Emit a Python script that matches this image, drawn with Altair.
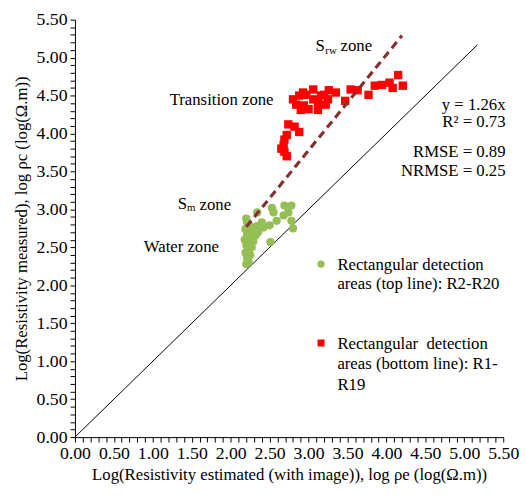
import altair as alt
import pandas as pd

# ---- data ----
green_x = [2.21, 2.34, 2.53, 2.55, 2.69, 2.78, 2.74, 2.68, 2.59, 2.50, 2.40, 2.42, 2.78, 2.80, 2.51,
           2.20, 2.23, 2.19, 2.25, 2.21, 2.28, 2.18, 2.24, 2.20, 2.27, 2.22, 2.19, 2.25, 2.21, 2.23,
           2.20, 2.30, 2.32, 2.29, 2.26, 2.34, 2.35]
green_y = [2.83, 2.96, 3.02, 2.96, 3.05, 3.05, 2.96, 2.92, 2.85, 2.79, 2.83, 2.76, 2.85, 2.75, 2.57,
           2.88, 2.80, 2.74, 2.70, 2.66, 2.64, 2.60, 2.57, 2.53, 2.50, 2.47, 2.43, 2.40, 2.36, 2.31,
           2.28, 2.72, 2.66, 2.58, 2.77, 2.78, 2.70]

red_x = [2.72, 2.69, 2.68, 2.69, 2.72, 2.74, 2.82, 2.88, 2.80, 2.88, 2.97, 2.84, 2.94, 3.06, 3.12,
         3.16, 2.90, 3.12, 2.93, 3.06, 3.26, 3.25, 3.35, 3.47, 3.54, 3.63, 3.77, 3.85, 3.94, 4.04,
         4.15, 4.21, 4.08, 3.00, 3.20, 3.22, 2.65]
red_y = [3.70, 3.76, 3.85, 3.92, 3.98, 4.12, 4.09, 4.02, 4.45, 4.50, 4.51, 4.38, 4.37, 4.45, 4.41,
         4.50, 4.31, 4.31, 4.54, 4.58, 4.57, 4.45, 4.54, 4.43, 4.58, 4.57, 4.51, 4.63, 4.64, 4.67,
         4.77, 4.63, 4.60, 4.32, 4.51, 4.38, 3.80]

one_x = [0.0, 5.17]
one_y = [0.0, 5.17]
fit_x = [2.2, 4.2]
fit_y = [2.77, 5.29]

tick_values = [round(i * 0.1, 1) for i in range(56)]

y_title = "Log(Resistivity measured), log \u03c1c (log(\u03a9.m))"
x_title = "Log(Resistivity estimated (with image)), log \u03c1e (log(\u03a9.m))"

FONT = "Liberation Serif"
GREEN = "#95BE55"
RED = "#FF0000"
DASH = "#843030"

xs = alt.Scale(domain=[0, 5.5], nice=False, zero=False)
ys = alt.Scale(domain=[0, 5.5], nice=False, zero=False)
label_expr = "round(datum.value * 10) % 5 == 0 ? format(datum.value, '.2f') : ''"
X = alt.X("x:Q", scale=xs, axis=alt.Axis(values=tick_values, labelExpr=label_expr, title=x_title,
                                          labelOverlap=False, labelFlush=False, titlePadding=4))
Y = alt.Y("y:Q", scale=ys, axis=alt.Axis(values=tick_values, labelExpr=label_expr, title=y_title,
                                          labelOverlap=False, labelFlush=False, titlePadding=6))

one_df = pd.DataFrame({"x": one_x, "y": one_y})
fit_df = pd.DataFrame({"x": fit_x, "y": fit_y})
g_df = pd.DataFrame({"x": green_x, "y": green_y})
r_df = pd.DataFrame({"x": red_x, "y": red_y})

one_line = alt.Chart(one_df).mark_line(color="black", strokeWidth=1).encode(x=X, y=Y)
fit_line = alt.Chart(fit_df).mark_line(color=DASH, strokeWidth=3.2, strokeDash=[8, 5]).encode(x=X, y=Y)
g_pts = alt.Chart(g_df).mark_point(shape="circle", filled=True, opacity=1, color=GREEN, size=70).encode(x=X, y=Y)
r_pts = alt.Chart(r_df).mark_point(shape="square", filled=True, opacity=1, color=RED, size=72).encode(x=X, y=Y)

# annotations
ann_left = pd.DataFrame({
    "x": [3.09, 3.41, 1.32, 1.60,
          3.37, 3.37, 3.37, 3.37, 3.37],
    "y": [5.15, 5.15, 3.07, 3.06,
          2.27, 2.01, 1.23, 0.96, 0.69],
    "text": ["S", "zone", "S", "zone",
             "Rectangular detection", "areas (top line): R2-R20",
             "Rectangular\u00a0 detection", "areas (bottom line): R1-", "R19"],
})
ann_sub = pd.DataFrame({"x": [3.215, 1.44], "y": [5.08, 3.02], "text": ["rw", "m"]})
ann_right = pd.DataFrame({
    "x": [2.55, 1.85, 5.53, 5.53, 5.53, 5.53],
    "y": [4.44, 2.50, 4.37, 4.15, 3.75, 3.50],
    "text": ["Transition zone", "Water zone", "y = 1.26x", "R\u00b2 = 0.73", "RMSE = 0.89", "NRMSE = 0.25"],
})
leg_g = pd.DataFrame({"x": [3.16], "y": [2.28]})
leg_r = pd.DataFrame({"x": [3.16], "y": [1.24]})

t_left = alt.Chart(ann_left).mark_text(align="left", baseline="middle", font=FONT, fontSize=17,
                                       color="black").encode(x=X, y=Y, text="text:N")
t_sub = alt.Chart(ann_sub).mark_text(align="left", baseline="middle", font=FONT, fontSize=11,
                                     color="black").encode(x=X, y=Y, text="text:N")
t_right = alt.Chart(ann_right).mark_text(align="right", baseline="middle", font=FONT, fontSize=17,
                                         color="black").encode(x=X, y=Y, text="text:N")
lg = alt.Chart(leg_g).mark_point(shape="circle", filled=True, opacity=1, color=GREEN, size=55).encode(x=X, y=Y)
lr = alt.Chart(leg_r).mark_point(shape="square", filled=True, opacity=1, color=RED, size=50).encode(x=X, y=Y)

chart = alt.layer(one_line, g_pts, r_pts, fit_line, t_left, t_sub, t_right, lg, lr).properties(
    width=435, height=424,
    background="white",
    autosize=alt.AutoSizeParams(type="none"),
    padding={"left": 68, "top": 8, "right": 16, "bottom": 57},
).configure_view(stroke=None).configure_axis(
    grid=False, domainColor="black", tickColor="black", tickSize=5, domainWidth=1, tickWidth=1,
    labelFont=FONT, labelFontSize=18, labelColor="black", labelPadding=3,
    titleFont=FONT, titleFontSize=17, titleFontWeight="normal", titleColor="black",
)

chart.save("out.html", embed_options={"renderer": "svg", "actions": False})
